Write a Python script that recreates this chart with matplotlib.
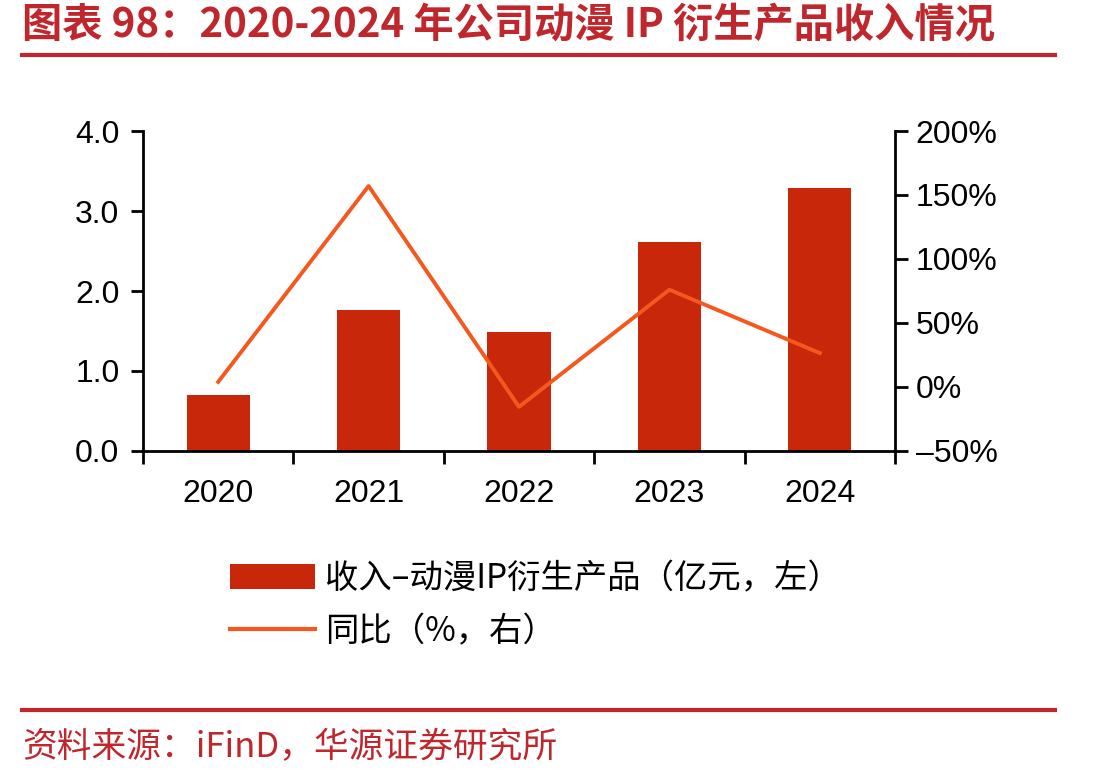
import matplotlib
matplotlib.use("Agg")
import matplotlib.pyplot as plt
from matplotlib.lines import Line2D
from matplotlib.patches import Patch

years = ["2020", "2021", "2022", "2023", "2024"]
revenue = [0.70, 1.76, 1.49, 2.61, 3.29]
yoy = [4, 157, -15.5, 76, 26.5]
left_ticks = [0.0, 1.0, 2.0, 3.0, 4.0]
left_labels = ["0.0", "1.0", "2.0", "3.0", "4.0"]
right_ticks = [-50, 0, 50, 100, 150, 200]
right_labels = ["–50%", "0%", "50%", "100%", "150%", "200%"]

title = "图表 98：2020-2024 年公司动漫 IP 衍生产品收入情况"
source = "资料来源：iFinD，华源证券研究所"
bar_label = "收入–动漫IP衍生产品（亿元，左）"
line_label = "同比（%，右）"

BAR_C = "#C8270A"
LINE_C = "#F5581E"
RED = "#C0272D"
CJK = ["Noto Sans CJK SC", "DejaVu Sans"]
NUM = ["Liberation Sans", "DejaVu Sans"]

W, H = 1113, 781
fig = plt.figure(figsize=(W / 100, H / 100), dpi=100)
ax = fig.add_axes([143 / W, 1 - 451 / H, (895 - 143) / W, (451 - 131) / H])
ax2 = ax.twinx()

x = list(range(len(years)))
ax.bar(x, revenue, width=0.42, color=BAR_C, zorder=2)
ax2.plot(x, yoy, color=LINE_C, lw=2.8, zorder=3)

ax.set_xlim(-0.5, len(years) - 0.5)
ax.set_ylim(0, 4)
ax2.set_ylim(-50, 200)

ax.set_yticks(left_ticks)
ax.set_yticklabels(left_labels, fontsize=23, family=NUM)
ax2.set_yticks(right_ticks)
ax2.set_yticklabels(right_labels, fontsize=23, family=NUM)

ax.set_xticks([i - 0.5 for i in range(len(years) + 1)])
ax.set_xticklabels([])
ax.set_xticks(x, minor=True)
ax.set_xticklabels(years, minor=True, fontsize=23, family=NUM)
ax.tick_params(axis="x", which="major", direction="out", length=9, width=2)
ax.tick_params(axis="x", which="minor", length=0, pad=20)
ax.tick_params(axis="y", direction="out", length=9, width=2, pad=8)
ax2.tick_params(axis="y", direction="out", length=9, width=2, pad=6)

for a in (ax, ax2):
    a.spines["top"].set_visible(False)
    for s in ("left", "right", "bottom"):
        a.spines[s].set_linewidth(2)
ax.spines["right"].set_visible(False)
ax2.spines["left"].set_visible(False)
ax2.spines["bottom"].set_visible(False)

handles = [Patch(facecolor=BAR_C, edgecolor="none"),
           Line2D([0], [0], color=LINE_C, lw=3)]
fig.legend(handles, [bar_label, line_label], loc="upper left",
           bbox_to_anchor=(230 / W, 1 - 561 / H), frameon=False,
           prop={"family": CJK, "size": 24}, handlelength=2.55,
           handleheight=0.78, labelspacing=0.55, handletextpad=0.3,
           borderaxespad=0, borderpad=0)

fig.text(22 / W, 1 - 25 / H, title, color=RED, fontsize=29, fontweight="bold",
         family=CJK, va="center", ha="left")
fig.add_artist(Line2D([22 / W, 1055 / W], [1 - 55 / H, 1 - 55 / H],
                      color=RED, lw=3, transform=fig.transFigure))
fig.add_artist(Line2D([22 / W, 1055 / W], [1 - 710 / H, 1 - 710 / H],
                      color=RED, lw=3, transform=fig.transFigure))
fig.text(22 / W, 1 - 748 / H, source, color=RED, fontsize=25,
         family=CJK, va="center", ha="left")

fig.savefig("out.png", dpi=100)
